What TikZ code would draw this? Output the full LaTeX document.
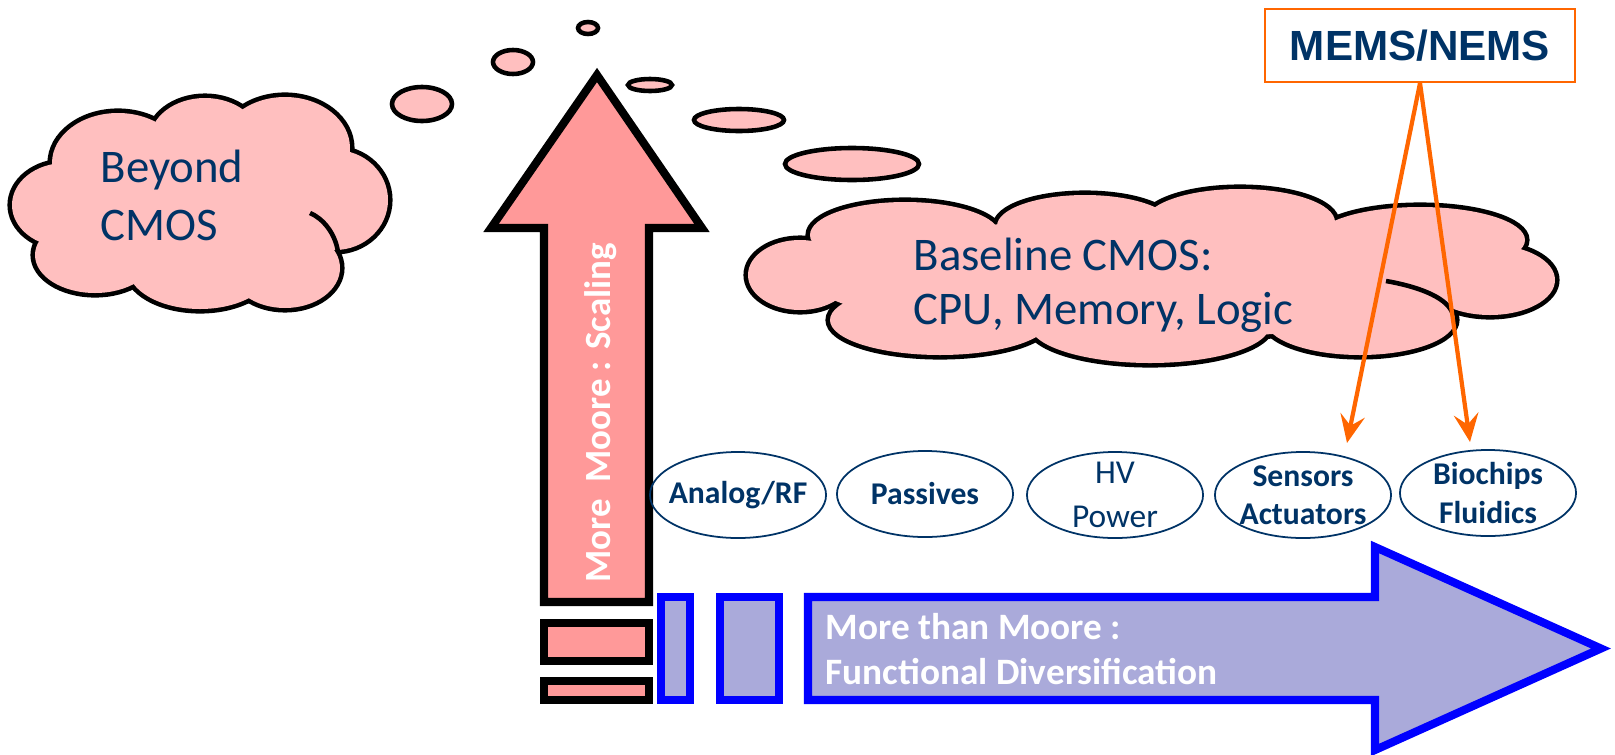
\documentclass[tikz,border=0pt]{standalone}
\usepackage{fontspec}
\setmainfont{Carlito}
\newfontfamily\arialfont{Liberation Sans}
\usetikzlibrary{shapes.geometric,arrows.meta}
\definecolor{rose}{RGB}{255,191,191}
\definecolor{saumon}{RGB}{255,153,153}
\definecolor{lavande}{RGB}{170,170,218}
\definecolor{marine}{RGB}{0,51,102}
\definecolor{orangevif}{RGB}{255,102,0}
\newcommand{\bouffesbeyond}{65/205/53/42, 118/163/66/50, 205/140/55/42, 285/148/65/51, 335/200/53/50, 285/268/55/40, 200/268/72/41, 95/255/60/38, 200/205/140/75}
\newcommand{\bouffesbase}{800/275/52/35, 905/235/95/33, 1085/226/88/31, 1240/222/95/33, 1420/240/105/33, 1490/280/65/35, 1360/320/95/35, 1150/325/120/38, 940/320/110/35, 1150/278/340/60}
\newcommand{\nuage}[1]{\foreach \px/\py/\a/\b in #1 {\draw[line width=2.6pt] (\px,\py) ellipse [x radius=\a, y radius=\b];}
	\foreach \px/\py/\a/\b in #1 {\fill[rose] (\px,\py) ellipse [x radius=\a, y radius=\b];}}
\newcommand{\trait}[4]{\draw[line width=1.3pt] (#1) .. controls (#2) and (#3) .. (#4)}
\newcommand{\bulle}[3]{\draw[bulle] (#1) ellipse [x radius=#2, y radius=#3]}
\newcommand{\barre}[2]{\draw[gras,fill=saumon] (544,#1) rectangle (649,#2)}
\newcommand{\bleu}[2]{\draw[gras,draw=blue,fill=lavande] (#1,597) rectangle (#2,700)}

\begin{document}
\begin{tikzpicture}[x=0.01cm,y=-0.01cm,
	gras/.style={line width=2.3pt,line join=miter},
	bulle/.style={draw,fill=rose,line width=1.3pt},
	pastille/.style={ellipse,draw=marine,line width=0.5pt,minimum width=1.76cm,minimum height=0.86cm,inner sep=0pt},
	etiq/.style={text=marine,font=\fontsize{9}{10.9}\selectfont\bfseries,align=center,inner sep=0pt},
	fleche/.style={draw=orangevif,line width=1.2pt,-{Stealth[length=8pt,width=7pt,inset=3pt]}}]
	\useasboundingbox (0,0) rectangle (1615,754);
	\nuage{\bouffesbeyond}
	\trait{310,213}{322,218}{335,232}{338,252};
	\nuage{\bouffesbase}
	\trait{1386,281}{1415,286}{1445,296}{1452,312};
	\node[anchor=west,align=left,text=marine,font=\fontsize{13.3}{16.5}\selectfont,inner sep=0pt] (beyondtxt) at (100,195) {Beyond\\CMOS};
	\node[anchor=west,align=left,text=marine,font=\fontsize{13.3}{15.4}\selectfont,inner sep=0pt] (basetxt) at (913,285) {Baseline CMOS:\\CPU, Memory, Logic};
	\bulle{588,28}{10}{6};
	\bulle{513,62}{20}{12};
	\bulle{422,104}{30}{17};
	\bulle{650,85}{22}{6};
	\bulle{739,120}{45}{11};
	\bulle{852,164}{67}{16};
	\draw[gras,fill=saumon] (544,602) -- (544,228) -- (491,228) -- (597,75) -- (702,228) -- (649,228) -- (649,602) -- cycle;
	\barre{623}{661};
	\barre{681}{700};
	\node[rotate=90,text=white,font=\fontsize{10.5}{12}\selectfont\bfseries,inner sep=0pt] (moore) at (601,413) {More\ \ Moore : Scaling};
	\bleu{661}{690};
	\bleu{720}{779};
	\draw[gras,draw=blue,fill=lavande] (808,597) -- (1375,597) -- (1375,547) -- (1601,648.5) -- (1375,750) -- (1375,700) -- (808,700) -- cycle;
	\node[anchor=west,align=left,text=white,font=\fontsize{10.6}{12.8}\selectfont\bfseries,inner sep=0pt] (plus) at (825,649) {More than Moore :\\Functional Diversification};
	\node[pastille] (analog) at (738,495) {};
	\node[etiq] (analogtxt) at (analog) {Analog/RF};
	\node[pastille] (passif) at (925,494) {};
	\node[etiq] (passiftxt) at (passif) {Passives};
	\node[pastille] (hv) at (1115,495) {};
	\node[etiq,font=\fontsize{9.5}{12.5}\selectfont] (hvtxt) at (hv) {HV\\Power};
	\node[pastille] (capteur) at (1303,495) {};
	\node[etiq] (capteurtxt) at (capteur) {Sensors\\Actuators};
	\node[pastille] (biopuce) at (1488,493) {};
	\node[etiq] (biopucetxt) at (biopuce) {Biochips\\Fluidics};
	\node[draw=orangevif,line width=0.6pt,minimum width=3.1cm,minimum height=0.73cm,inner sep=0pt,text=marine,font=\arialfont\fontsize{12}{14}\selectfont\bfseries] (mems) at (1420,45.5) {MEMS/NEMS};
	\coordinate (capt) at (1347,443);
	\coordinate (bioc) at (1470,442);
	\draw[fleche] (mems.south) -- (capt);
	\draw[fleche] (mems.south) -- (bioc);
\end{tikzpicture}
\end{document}
